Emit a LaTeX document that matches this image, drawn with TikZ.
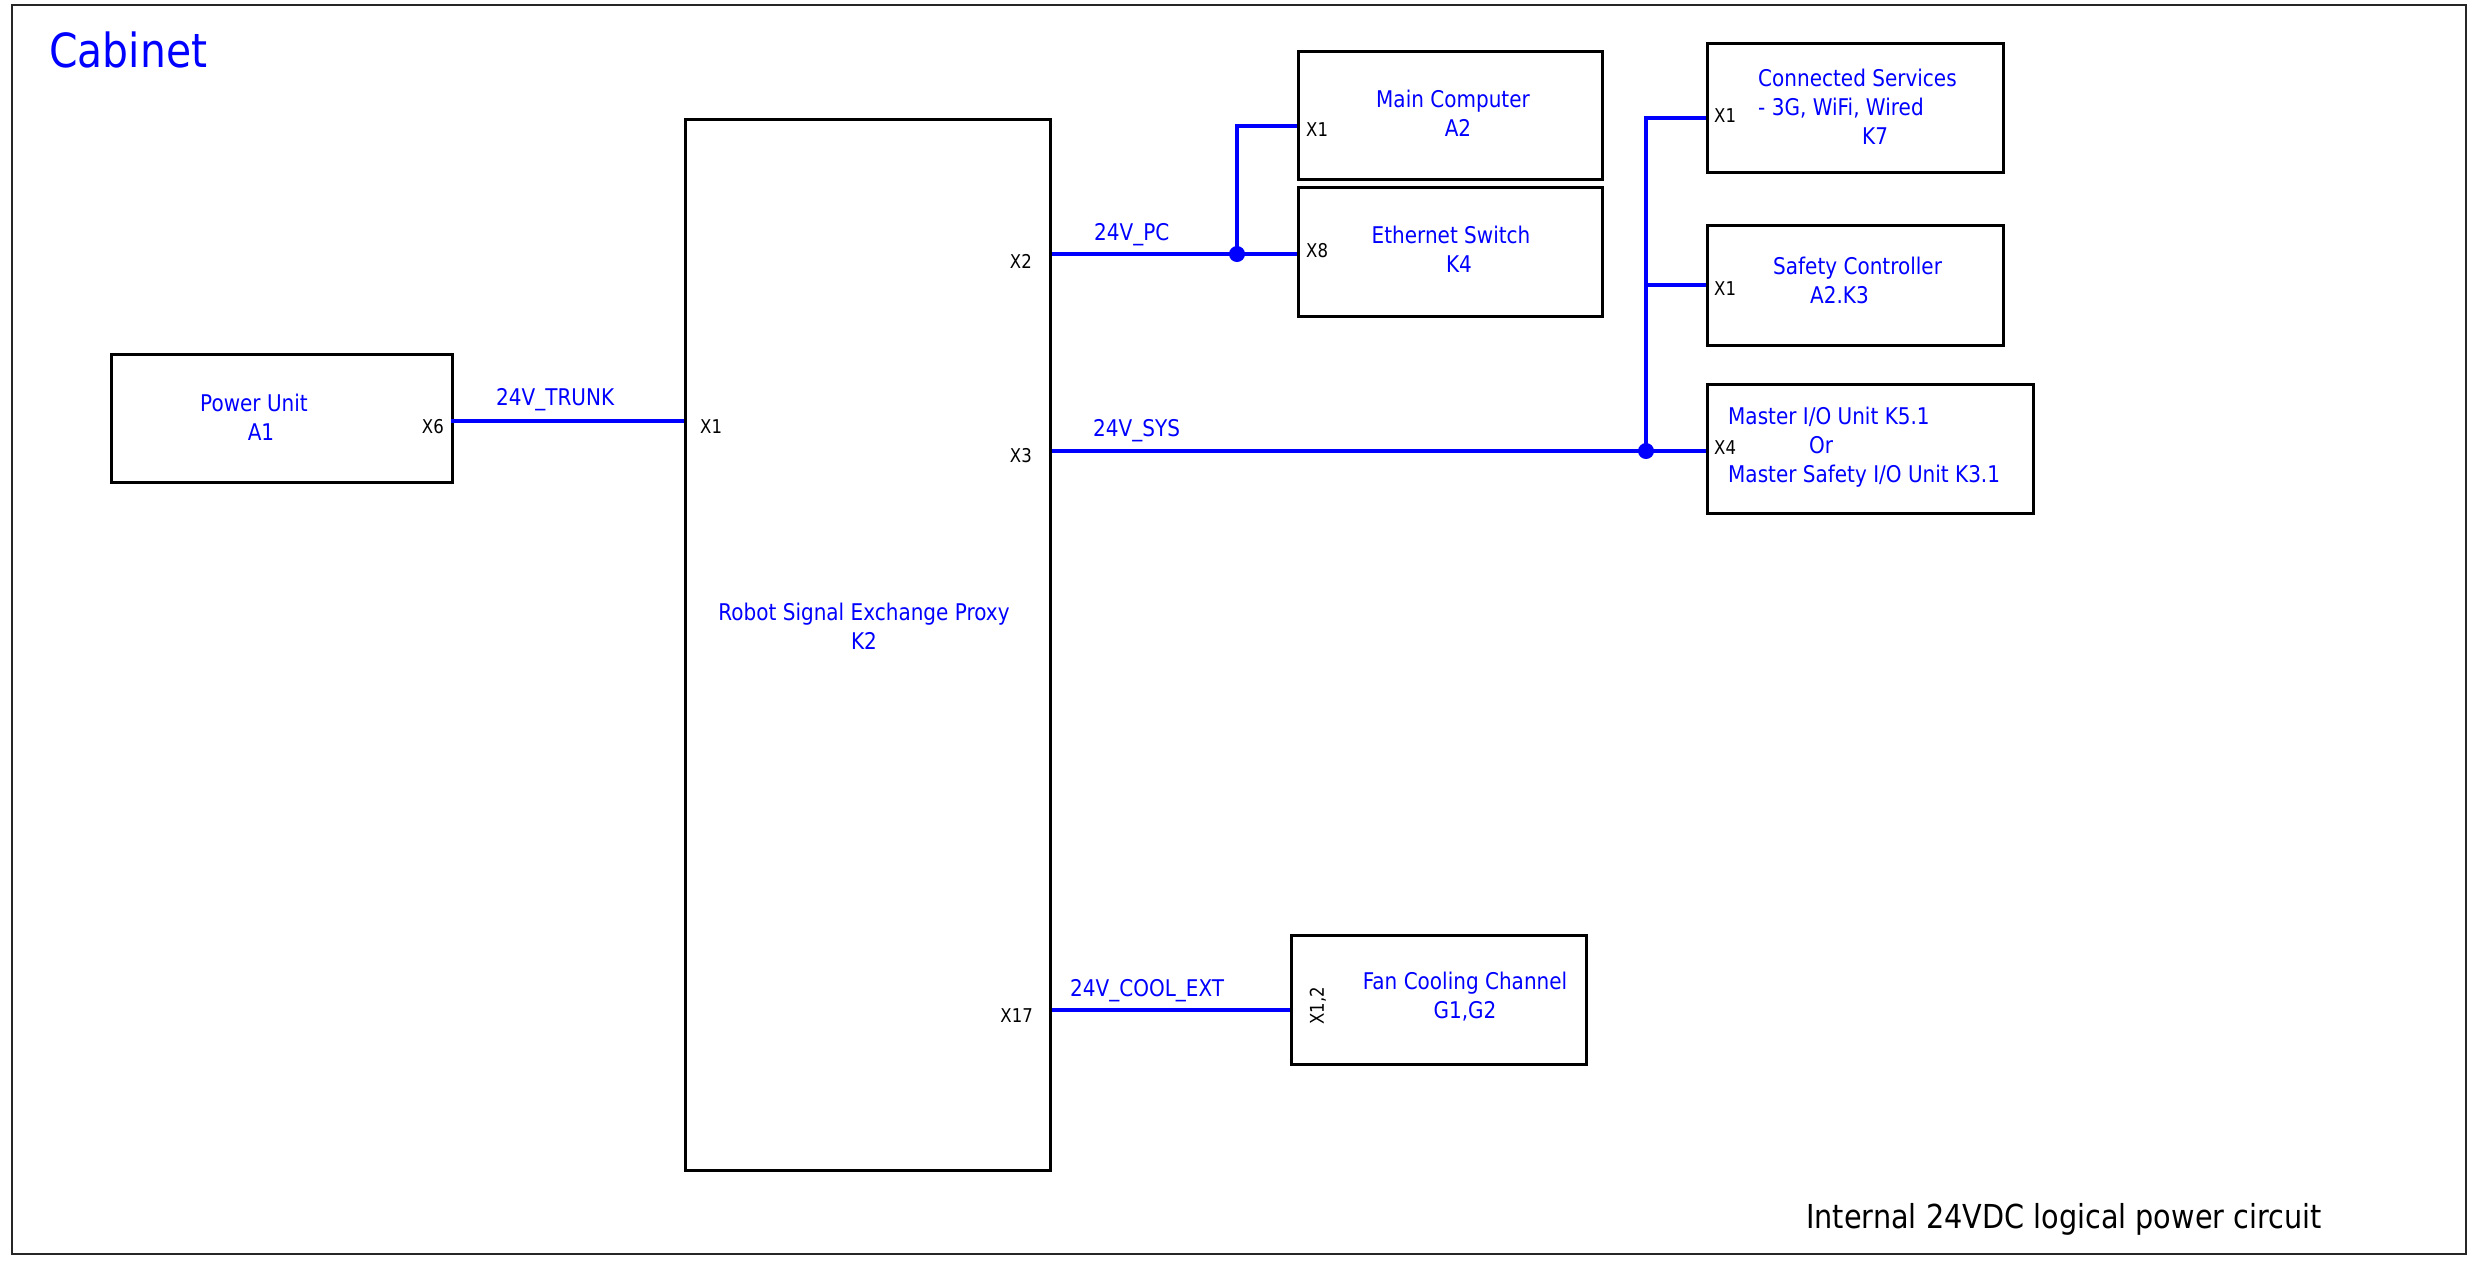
\documentclass[tikz,border=0pt]{standalone}
\usepackage{fontspec}
\setmainfont{DejaVu Sans}[FakeStretch=0.87]
\begin{document}
\begin{tikzpicture}[x=1pt,y=-1pt,
  box/.style={draw=black, line width=3.3pt, inner sep=0pt, anchor=north west},
  lbl/.style={text=blue, font=\fontsize{23}{29}\selectfont, inner sep=0pt},
  port/.style={text=black, font=\fontsize{19}{22}\selectfont, inner sep=0pt},
  wire/.style={blue, line width=4pt},
  junct/.style={circle, fill=blue, inner sep=0pt, minimum size=16pt}]
\useasboundingbox (0,0) rectangle (2473,1262);
\draw[black!85, line width=2pt] (12,5) rectangle (2466,1254);
\node[anchor=west, text=blue, font=\fontsize{47}{50}\selectfont, inner sep=0pt] (title) at (49,50) {Cabinet};
\node[font=\fontsize{33}{36}\selectfont, inner sep=0pt] (footer) at (2064,1219) {Internal 24VDC logical power circuit};

% boxes
\node[box, minimum width=341pt, minimum height=128pt] (pu) at (110,353) {};
\node[box, minimum width=365pt, minimum height=1051pt] (k2) at (684,118) {};
\node[box, minimum width=304pt, minimum height=128pt] (mc) at (1297,50) {};
\node[box, minimum width=304pt, minimum height=129pt] (es) at (1297,186) {};
\node[box, minimum width=296pt, minimum height=129pt] (cs) at (1706,42) {};
\node[box, minimum width=296pt, minimum height=120pt] (sc) at (1706,224) {};
\node[box, minimum width=326pt, minimum height=129pt] (mio) at (1706,383) {};
\node[box, minimum width=295pt, minimum height=129pt] (fan) at (1290,934) {};

% box texts
\node[lbl, align=center] (pu-t) at (254,417) {Power Unit\\\hspace*{14pt}A1};
\node[lbl, align=center] (k2-t) at (864,626) {Robot Signal Exchange Proxy\\K2};
\node[lbl, align=center] (mc-t) at (1453,113) {Main Computer\\\hspace*{10pt}A2};
\node[lbl, align=center] (es-t) at (1451,249) {Ethernet Switch\\\hspace*{16pt}K4};
\node[lbl, align=left, anchor=west] (cs-t) at (1758,107) {Connected Services\\- 3G, WiFi, Wired\\\hspace*{104pt}K7};
\node[lbl, align=left, anchor=west] (sc-t) at (1773,280) {Safety Controller\\\hspace*{37pt}A2.K3};
\node[lbl, align=left, anchor=west] (mio-t) at (1728,447) {Master I/O Unit K5.1\\\hspace*{81pt}Or\\Master Safety I/O Unit K3.1};
\node[lbl, align=center] (fan-t) at (1465,997) {Fan Cooling Channel\\G1,G2};

% port coordinates
\coordinate (p-x6) at (451,421);
\coordinate (jpc) at (1237,254);
\coordinate (p-mc) at (1297,126);
\coordinate (jsys) at (1646,451);
\coordinate (p-cs) at (1706,118);
\coordinate (p-sc) at (1706,285);
\coordinate (p-fan) at (1290,1010);

% wires
\draw[wire] (p-x6) -- (p-x6 -| k2.west);
\draw[wire] (k2.east |- jpc) -- (jpc) -- (jpc -| es.west);
\draw[wire] (jpc) |- (p-mc);
\draw[wire] (k2.east |- jsys) -- (jsys -| mio.west);
\draw[wire] (jsys) |- (p-cs);
\draw[wire] (jsys |- p-sc) -- (p-sc);
\draw[wire] (k2.east |- p-fan) -- (p-fan);
\node[junct] (d1) at (jpc) {};
\node[junct] (d2) at (jsys) {};

% wire labels
\node[lbl, anchor=west] (l-trunk) at (496,400) {24V\_TRUNK};
\node[lbl, anchor=west] (l-pc) at (1094,235) {24V\_PC};
\node[lbl, anchor=west] (l-sys) at (1093,431) {24V\_SYS};
\node[lbl, anchor=west] (l-cool) at (1070,991) {24V\_COOL\_EXT};

% port labels
\node[port, anchor=east] (x6) at (444,427) {X6};
\node[port, anchor=west] (k2x1) at (700,427) {X1};
\node[port, anchor=east] (x2) at (1032,261) {X2};
\node[port, anchor=east] (x3) at (1032,456) {X3};
\node[port, anchor=east] (x17) at (1033,1016) {X17};
\node[port, anchor=west] (mcx1) at (1306,130) {X1};
\node[port, anchor=west] (esx8) at (1306,251) {X8};
\node[port, anchor=west] (csx1) at (1714,116) {X1};
\node[port, anchor=west] (scx1) at (1714,289) {X1};
\node[port, anchor=west] (miox4) at (1714,448) {X4};
\node[port, rotate=90] (fanx) at (1318,1006) {X1,2};
\end{tikzpicture}
\end{document}
